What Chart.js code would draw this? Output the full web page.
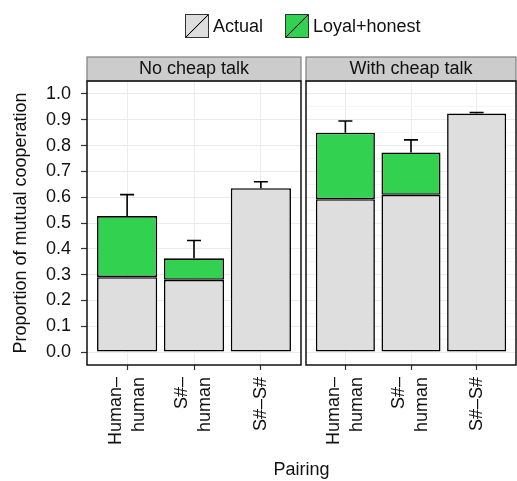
<!DOCTYPE html>
<html>
<head>
<meta charset="utf-8">
<script src="https://cdn.jsdelivr.net/npm/chart.js@4"></script>
<style>
  body { margin: 0; width: 517px; height: 481px; position: relative; overflow: hidden; background: #fff;
         font-family: "Liberation Sans", Arial, Helvetica, sans-serif; color: #111; }
  #left { position: absolute; left: 0; top: 0; }
  #right { position: absolute; left: 304px; top: 0; }
  #legend { position: absolute; top: 14px; left: 185px; height: 24px; display: flex; align-items: center; font-size: 18px; }
  .key { width: 22px; height: 22px; border: 1px solid #333; margin-right: 4px; }
  .gap { width: 22px; }
  #xtitle { position: absolute; top: 459px; left: 87px; width: 429px; text-align: center; font-size: 18px; }
</style>
</head>
<body>
<canvas id="left" width="304" height="481"></canvas>
<canvas id="right" width="213" height="481"></canvas>
<div id="legend">
  <div class="key" id="keyActual"></div><span>Actual</span><div class="gap"></div>
  <div class="key" id="keyLoyal"></div><span>Loyal+honest</span>
</div>
<div id="xtitle">Pairing</div>
<script>
const pairings = [["Human–", "human"], ["S#–", "human"], "S#–S#"];
const panels = ["No cheap talk", "With cheap talk"];
const seriesNames = ["Actual", "Loyal+honest"];
const yTicks = [0, 0.1, 0.2, 0.3, 0.4, 0.5, 0.6, 0.7, 0.8, 0.9, 1.0];

const noTalkActual = [0.29, 0.28, 0.635];
const noTalkLoyal = [0.237, 0.083, null];
const noTalkUpper = [0.61, 0.432, 0.66];

const talkActual = [0.592, 0.609, 0.924];
const talkLoyal = [0.258, 0.164, null];
const talkUpper = [0.895, 0.822, 0.928];

const grey = "#dedede";
const green = "#32d150";
const font = "'Liberation Sans', Arial, Helvetica, sans-serif";
const labelLineHeight = 1.28;

function keyBg(fill) {
  return "linear-gradient(to bottom right, transparent calc(50% - 0.8px), #000 50%, transparent calc(50% + 0.8px)), " + fill;
}
document.getElementById("keyActual").style.background = keyBg(grey);
document.getElementById("keyLoyal").style.background = keyBg(green);

const isMajor = v => yTicks.some(t => Math.abs(t - v) < 1e-6);

// strip on top + black frame round the panel
const panelFrame = {
  id: "panelFrame",
  afterDraw(chart, args, opts) {
    const { ctx, chartArea: a } = chart;
    ctx.save();
    ctx.fillStyle = "#cccccc";
    ctx.strokeStyle = "#7f7f7f";
    ctx.lineWidth = 1.2;
    ctx.fillRect(a.left, a.top - 24, a.right - a.left, 24);
    ctx.strokeRect(a.left, a.top - 24, a.right - a.left, 24);
    ctx.fillStyle = "#111";
    ctx.font = "18px " + font;
    ctx.textAlign = "center";
    ctx.textBaseline = "middle";
    ctx.fillText(opts.title, (a.left + a.right) / 2, a.top - 12);
    ctx.strokeStyle = "#111";
    ctx.lineWidth = 1.5;
    ctx.strokeRect(a.left, a.top, a.right - a.left, a.bottom - a.top);
    ctx.restore();
  }
};

// two-line rotated labels: centre the block of lines on the tick
const centerLabels = {
  id: "centerLabels",
  beforeDraw(chart) {
    const s = chart.scales.x;
    const lh = s.options.ticks.font.size * labelLineHeight;
    s.getLabelItems(chart.chartArea).forEach(it => {
      if (!it._centered && Array.isArray(it.label) && it.label.length > 1) {
        it.textOffset -= (it.label.length - 1) * lh / 2;
        it._centered = true;
      }
    });
  }
};

// upper error bars from the top of each stack
const errBars = {
  id: "errBars",
  afterDatasetsDraw(chart, args, opts) {
    const { ctx, scales: { x, y } } = chart;
    const ds = chart.data.datasets;
    ctx.save();
    ctx.strokeStyle = "#000";
    ctx.lineWidth = 1.6;
    opts.upper.forEach((u, i) => {
      const total = ds.reduce((s, d) => s + (d.data[i].y || 0), 0);
      const px = x.getPixelForValue(i + 1);
      const y0 = y.getPixelForValue(total);
      const y1 = y.getPixelForValue(u);
      ctx.beginPath();
      ctx.moveTo(px, y0); ctx.lineTo(px, y1);
      ctx.moveTo(px - 7, y1); ctx.lineTo(px + 7, y1);
      ctx.stroke();
    });
    ctx.restore();
  }
};

function makePanel(id, title, actual, loyal, upper, withAxis) {
  const pts = arr => arr.map((v, i) => ({ x: i + 1, y: v }));
  return new Chart(document.getElementById(id), {
    type: "bar",
    data: {
      datasets: [
        { label: seriesNames[0], data: pts(actual), backgroundColor: grey },
        { label: seriesNames[1], data: pts(loyal), backgroundColor: green }
      ]
    },
    options: {
      responsive: false,
      animation: false,
      grouped: false,
      barPercentage: 0.9,
      categoryPercentage: 1,
      borderColor: "#000",
      borderWidth: 1.6,
      borderSkipped: false,
      layout: { padding: withAxis ? { top: 81, right: 3, left: 0, bottom: 0 } : { top: 81, right: 1, left: 2, bottom: 0 } },
      plugins: {
        legend: { display: false },
        tooltip: { enabled: false },
        panelFrame: { title: title },
        errBars: { upper: upper }
      },
      scales: {
        x: {
          type: "linear",
          offset: false,
          min: 0.4,
          max: 3.6,
          afterBuildTicks: s => { s.ticks = pairings.map((p, i) => ({ value: i + 1 })); },
          afterFit: s => { s.height = 116; s.paddingLeft = 0; s.paddingRight = 0; },
          border: { display: false },
          grid: { offset: false, color: "#ebebeb", tickColor: "#333", tickLength: 5, tickWidth: 1.2 },
          ticks: {
            autoSkip: false, minRotation: 90, maxRotation: 90, padding: 7,
            color: "#111", font: { family: font, size: 18, lineHeight: labelLineHeight },
            callback: v => pairings[Math.round(v) - 1]
          }
        },
        y: {
          stacked: true,
          min: -0.05,
          max: 1.05,
          afterBuildTicks: s => {
            const vals = [];
            yTicks.forEach((t, i) => { vals.push(t); if (i < yTicks.length - 1) vals.push((t + yTicks[i + 1]) / 2); });
            s.ticks = vals.map(v => ({ value: v }));
          },
          afterFit: s => { s.width = withAxis ? 87 : 0; },
          border: { display: false },
          grid: {
            drawTicks: withAxis,
            tickLength: 6,
            tickWidth: 1.2,
            color: c => (c.tick && !isMajor(c.tick.value)) ? "#f4f4f4" : "#ebebeb",
            tickColor: c => (c.tick && isMajor(c.tick.value)) ? "#333" : "rgba(0,0,0,0)"
          },
          ticks: {
            display: withAxis, padding: 10, color: "#111",
            font: { family: font, size: 18 },
            callback: v => isMajor(v) ? v.toFixed(1) : ""
          },
          title: {
            display: withAxis, text: "Proportion of mutual cooperation", color: "#111",
            font: { family: font, size: 18 }, padding: { top: 10, bottom: 0 }
          }
        }
      }
    },
    plugins: [panelFrame, centerLabels, errBars]
  });
}

makePanel("left", panels[0], noTalkActual, noTalkLoyal, noTalkUpper, true);
makePanel("right", panels[1], talkActual, talkLoyal, talkUpper, false);
</script>
</body>
</html>
